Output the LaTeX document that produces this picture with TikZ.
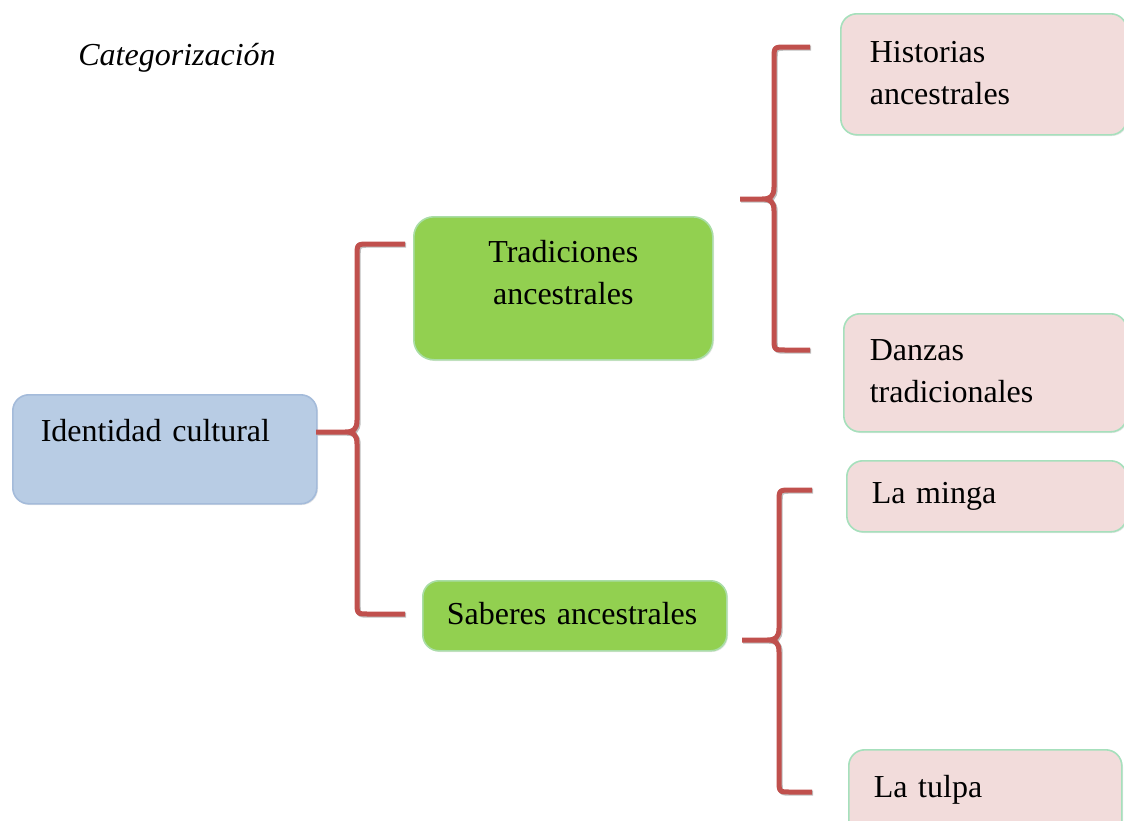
\documentclass[tikz,border=0pt]{standalone}
\usepackage{fontspec}
\setmainfont[WordSpace=0.7]{Liberation Serif}
\usetikzlibrary{calc,shadows}

\definecolor{cajaazul}{HTML}{B8CCE4}
\definecolor{bordeazul}{HTML}{A4BBDA}
\definecolor{cajaverde}{HTML}{92D050}
\definecolor{bordeverde}{HTML}{A9DDA6}
\definecolor{cajarosa}{HTML}{F2DCDB}
\definecolor{borderosa}{HTML}{A6E0BC}
\definecolor{llaverojo}{HTML}{C0504D}

\tikzset{
  caja/.style={rounded corners=8pt, line width=0.8pt, anchor=north west, inner ysep=0pt,
    font=\fontsize{16}{21}\selectfont,
    drop shadow={shadow xshift=0.6pt, shadow yshift=-0.6pt, opacity=0.18}},
  azul/.style={caja, fill=cajaazul, draw=bordeazul, align=left},
  verde/.style={caja, fill=cajaverde, draw=bordeverde},
  rosa/.style={caja, fill=cajarosa, draw=borderosa, align=left},
  llave/.style={draw=llaverojo, line width=2.5pt, line join=round,
    preaction={draw=black!25, line width=2.5pt, transform canvas={xshift=0.6pt, yshift=-0.6pt}}}
}

% curly brace: nose, top end, bottom end, spine
\newcommand{\llave}[4]{%
  \draw[llave] let \p1=(#1), \p2=(#2), \p3=(#3), \p4=(#4) in
    (\p2) -- (\x4+6pt,\y2) .. controls (\x4,\y2) .. (\x4,\y2-6pt)
      -- (\x4,\y1+6pt) .. controls (\x4,\y1+1pt) and (\x4-2pt,\y1) .. (\x4-6pt,\y1) -- (\p1)
    (\x4-6pt,\y1) .. controls (\x4-2pt,\y1) and (\x4,\y1-1pt) .. (\x4,\y1-6pt)
      -- (\x4,\y3+6pt) .. controls (\x4,\y3) .. (\x4+6pt,\y3) -- (\p3);
}

\begin{document}
\begin{tikzpicture}[x=0.5pt, y=-0.5pt]
\useasboundingbox (0,0) rectangle (1124,820);

\node[anchor=base west, inner sep=0pt, font=\fontsize{16}{21}\selectfont\itshape] (titulo) at (78,65) {Categorización};

% boxes
\node[azul, inner xsep=14pt, text width=124pt, text height=23.5pt, text depth=31pt] (ident) at (12,394) {Identidad cultural};
\node[verde, rounded corners=10pt, align=center, inner xsep=10pt, text width=129.5pt, text height=23pt, text depth=48.5pt] (trad) at (413,216) {Tradiciones\\ancestrales};
\node[verde, align=left, inner xsep=12pt, text width=128pt, text height=22pt, text depth=13pt] (saber) at (422,580) {Saberes ancestrales};

\node[rosa, inner xsep=14.5pt, text width=114pt, text height=24.5pt, text depth=36pt] (hist) at (840,13) {Historias\\ancestrales};
\node[rosa, inner xsep=13pt, text width=115.5pt, text height=23.5pt, text depth=35.5pt] (danz) at (843,313) {Danzas\\tradicionales};
\node[rosa, inner xsep=12.5pt, text width=115pt, text height=21.5pt, text depth=14pt] (minga) at (846,460) {La minga};
\node[rosa, inner xsep=12.5pt, text width=111.5pt, text height=24pt, text depth=20pt] (tulpa) at (848,749) {La tulpa};

% braces
\coordinate (n1) at (316,432);
\coordinate (a1) at (405,244);
\coordinate (z1) at (405,614);
\coordinate (s1) at (357,0);
\coordinate (n2) at (740,199);
\coordinate (a2) at (810,47);
\coordinate (z2) at (810,350);
\coordinate (s2) at (774,0);
\coordinate (n3) at (742,640);
\coordinate (a3) at (812,490);
\coordinate (z3) at (812,792);
\coordinate (s3) at (779,0);

\llave{n1}{a1}{z1}{s1}
\llave{n2}{a2}{z2}{s2}
\llave{n3}{a3}{z3}{s3}
\end{tikzpicture}
\end{document}
